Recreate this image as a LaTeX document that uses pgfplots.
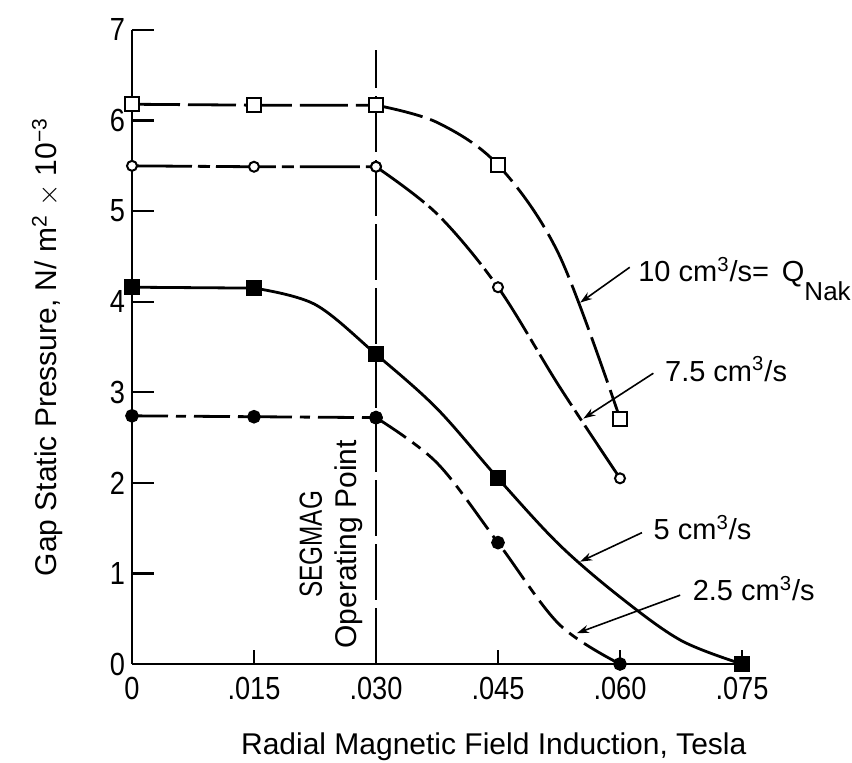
\documentclass[border=0pt]{standalone}
\usepackage{pgfplots}
\pgfplotsset{compat=1.18}
\usepackage{fontspec}
\setmainfont{Liberation Sans}
\newfontfamily\condfont{Liberation Sans}[FakeStretch=0.85]
\newfontfamily\narrowfont{Liberation Sans}[FakeStretch=0.76]
\usetikzlibrary{arrows.meta}

\begin{document}
\begin{tikzpicture}
\begin{axis}[
  scale only axis, width=305pt, height=317pt,
  xmin=0, xmax=0.075, ymin=0, ymax=7,
  axis lines=left, axis line style={-, line width=1.4pt},
  clip=false,
  scaled x ticks=false,
  xtick={0,0.015,0.03,0.045,0.06,0.075},
  xticklabels={0,.015,.030,.045,.060,.075},
  ytick={0,1,2,3,4,5,6,7},
  yticklabels={0,1,2,3,4,5,6,7},
  tick align=inside,
  major tick length=11pt,
  tick style={line width=1.2pt, black},
  xtick style={/pgfplots/major tick length=7pt},
  ticklabel style={font=\condfont\fontsize{16}{16}\selectfont},
  xticklabel style={yshift=-3pt},
  /pgf/number format/assume math mode=true,
  xlabel={Radial Magnetic Field Induction, Tesla},
  ylabel={Gap Static Pressure, N/ m\textsuperscript{2} $\times$ 10\textsuperscript{−3}},
  xlabel style={font=\fontsize{15}{18}\selectfont, at={(axis description cs:0.593,0)}, anchor=base, yshift=-45.5pt},
  ylabel style={font=\fontsize{15}{18}\selectfont, at={(axis description cs:-0.123,0.50)}, anchor=base},
]
% SEGMAG operating point line
\addplot[line width=1.2pt, dash pattern=on 28pt off 4pt] coordinates {(0.03,0) (0.03,6.78)};

% 10 cm3/s
\addplot[line width=1.4pt, dash pattern=on 24pt off 4pt, sharp plot,
  mark=square*, mark size=3.5pt, mark options={solid, fill=white, draw=black, line width=1pt}]
  coordinates {(0,6.18) (0.015,6.17) (0.03,6.17)};
\addplot[line width=1.4pt, dash pattern=on 24pt off 4pt, smooth, tension=0.55,
  mark=square*, mark size=3.5pt, mark indices={1,3,5}, mark options={solid, fill=white, draw=black, line width=1pt}]
  coordinates {(0.03,6.17) (0.0375,5.98) (0.045,5.51) (0.0525,4.52) (0.06,2.71)};

% 7.5 cm3/s
\addplot[line width=1.4pt, dash pattern=on 30pt off 3pt on 6pt off 3pt, sharp plot,
  mark=*, mark size=2.5pt, mark options={solid, fill=white, draw=black, line width=1pt}]
  coordinates {(0,5.5) (0.015,5.49) (0.03,5.49)};
\addplot[line width=1.4pt, dash pattern=on 30pt off 3pt on 6pt off 3pt, smooth, tension=0.55,
  mark=*, mark size=2.5pt, mark indices={1,3,5}, mark options={solid, fill=white, draw=black, line width=1pt}]
  coordinates {(0.03,5.49) (0.0375,4.97) (0.045,4.16) (0.0525,3.07) (0.06,2.05)};

% 5 cm3/s
\addplot[line width=1.4pt, solid, sharp plot,
  mark=square*, mark size=3.3pt, mark options={solid, fill=black}]
  coordinates {(0,4.16) (0.015,4.15)};
\addplot[line width=1.4pt, solid, smooth, tension=0.55,
  mark=square*, mark size=3.3pt, mark indices={1,3,5,9}, mark options={solid, fill=black}]
  coordinates {(0.015,4.15) (0.0225,3.97) (0.03,3.42) (0.0375,2.82) (0.045,2.05) (0.0525,1.32) (0.06,0.74) (0.0675,0.26) (0.075,0)};

% 2.5 cm3/s
\addplot[line width=1.4pt, dash pattern=on 18pt off 4pt on 5pt off 4pt, sharp plot,
  mark=*, mark size=2.7pt, mark options={solid, fill=black}]
  coordinates {(0,2.74) (0.015,2.73) (0.03,2.72)};
\addplot[line width=1.4pt, dash pattern=on 18pt off 4pt on 5pt off 4pt, smooth, tension=0.55,
  mark=*, mark size=2.7pt, mark indices={1,3,5}, mark options={solid, fill=black}]
  coordinates {(0.03,2.72) (0.0375,2.22) (0.045,1.34) (0.0525,0.44) (0.06,0)};

% annotations
\node[rotate=90, align=center, font=\fontsize{15}{17.5}\selectfont] at (axis cs:0.0245,1.32) {{\narrowfont\fontsize{16}{17.5}\selectfont SEGMAG}\\Operating Point};

\node[anchor=base west, font=\fontsize{14.5}{17}\selectfont, inner sep=0pt] at (axis cs:0.0622,4.22) {10 cm\textsuperscript{3}/s=\ \,Q\raisebox{-9.5pt}{\fontsize{13}{13}\selectfont Nak}};
\draw[line width=0.8pt, -{Stealth[length=6pt,width=4pt]}] (axis cs:0.0612,4.38) -- (axis cs:0.0551,3.99);

\node[anchor=base west, font=\fontsize{14.5}{17}\selectfont, inner sep=0pt] at (axis cs:0.0655,3.12) {7.5 cm\textsuperscript{3}/s};
\draw[line width=0.8pt, -{Stealth[length=6pt,width=4pt]}] (axis cs:0.0641,3.21) -- (axis cs:0.0555,2.71);

\node[anchor=base west, font=\fontsize{14.5}{17}\selectfont, inner sep=0pt] at (axis cs:0.0641,1.375) {5 cm\textsuperscript{3}/s};
\draw[line width=0.8pt, -{Stealth[length=6pt,width=4pt]}] (axis cs:0.0627,1.45) -- (axis cs:0.0551,1.13);

\node[anchor=base west, font=\fontsize{14.5}{17}\selectfont, inner sep=0pt] at (axis cs:0.0689,0.70) {2.5 cm\textsuperscript{3}/s};
\draw[line width=0.8pt, -{Stealth[length=6pt,width=4pt]}] (axis cs:0.0674,0.76) -- (axis cs:0.0547,0.34);
\end{axis}
\pgfresetboundingbox
\path (-66pt,-49.5pt) rectangle (360pt,332pt);
\end{tikzpicture}
\end{document}
